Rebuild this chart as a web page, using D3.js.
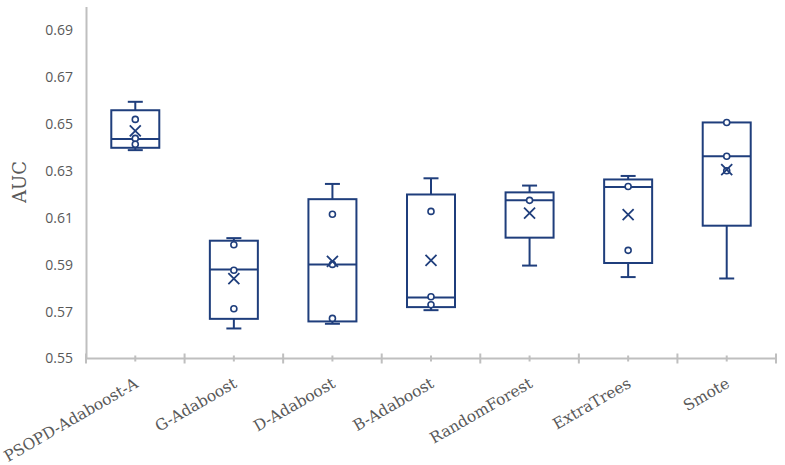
<!DOCTYPE html>
<html><head><meta charset="utf-8">
<script src="https://cdn.jsdelivr.net/npm/d3@7"></script>
<style>html,body{margin:0;padding:0;background:#fff;}</style>
</head><body>
<svg id="c" width="785" height="465"></svg>
<script>
const categories = ["PSOPD-Adaboost-A","G-Adaboost","D-Adaboost","B-Adaboost","RandomForest","ExtraTrees","Smote"];
const mins    = [0.6388, 0.5628, 0.5648, 0.5706, 0.5896, 0.5847, 0.5841];
const q1s     = [0.6398, 0.5669, 0.5658, 0.5719, 0.6015, 0.5907, 0.6066];
const medians = [0.6435, 0.5879, 0.5901, 0.5760, 0.6174, 0.6231, 0.6362];
const q3s     = [0.6558, 0.6002, 0.6179, 0.6199, 0.6208, 0.6263, 0.6506];
const maxs    = [0.6594, 0.6013, 0.6244, 0.6268, 0.6237, 0.6278, 0.6506];
const means   = [0.6470, 0.5840, 0.5914, 0.5918, 0.6120, 0.6113, 0.6305];
const innerPoints = [
  [0.6519, 0.6438, 0.6413],
  [0.5985, 0.5876, 0.5712],
  [0.6115, 0.5901, 0.5671],
  [0.6127, 0.5763, 0.5729],
  [0.6174],
  [0.6233, 0.5961],
  [0.6506, 0.6362, 0.6300]
];
const yTicks = [0.55, 0.57, 0.59, 0.61, 0.63, 0.65, 0.67, 0.69];

const color = "#1f3e7c";
const axisColor = "#bfbfbf";
const svg = d3.select("#c");
const x0 = 86, x1 = 776, yBottom = 358.5;
const y = d3.scaleLinear().domain([0.55, 0.70]).range([yBottom, yBottom - 7.5*(yBottom-30)/7]);
const x = d3.scaleBand().domain(categories).range([x0, x1]).paddingInner(0).paddingOuter(0);
const bw = x.bandwidth();
const boxW = 48, capW = 15;

// y axis
const yAxis = svg.append("g").attr("transform", `translate(${x0},0)`)
  .call(d3.axisLeft(y).tickValues(yTicks).tickFormat(d3.format(".2f")).tickSize(0).tickPadding(13));
yAxis.select(".domain").attr("stroke", axisColor).attr("stroke-width", 2);
yAxis.selectAll("text").attr("fill", "#595959").style("font-family", "Open Sans").style("font-size", "14px");

// x axis line + ticks
svg.append("line").attr("x1", x0).attr("x2", x1).attr("y1", yBottom).attr("y2", yBottom)
  .attr("stroke", axisColor).attr("stroke-width", 2);
const bounds = categories.map(c => x(c)).concat([x1]);
svg.selectAll(".btick").data(bounds).enter().append("line")
  .attr("x1", d => d).attr("x2", d => d).attr("y1", yBottom-5).attr("y2", yBottom+5)
  .attr("stroke", axisColor).attr("stroke-width", 2);
svg.selectAll(".ctick").data(categories).enter().append("line")
  .attr("x1", d => x(d)+bw/2).attr("x2", d => x(d)+bw/2).attr("y1", yBottom-3).attr("y2", yBottom+3)
  .attr("stroke", axisColor).attr("stroke-width", 2);

// x labels
svg.selectAll(".xl").data(categories).enter().append("text")
  .attr("transform", d => `translate(${x(d)+bw/2+4},${yBottom+28}) rotate(-30)`)
  .attr("text-anchor", "end")
  .attr("fill", "#595959")
  .style("font-family", "DejaVu Serif").style("font-size", "15.5px")
  .text(d => d);

// y title
svg.append("text").attr("transform", "translate(26,182) rotate(-90)")
  .attr("text-anchor", "middle").attr("fill", "#595959")
  .style("font-family", "DejaVu Serif").style("font-size", "18px").text("AUC");

// boxes
const g = svg.append("g");
categories.forEach((c, i) => {
  const cx = x(c) + bw/2;
  const gg = g.append("g").attr("fill", "none").attr("stroke", color).attr("stroke-width", 2);
  if (maxs[i] > q3s[i]) {
    gg.append("line").attr("x1", cx).attr("x2", cx).attr("y1", y(q3s[i])).attr("y2", y(maxs[i]));
    gg.append("line").attr("x1", cx-capW/2).attr("x2", cx+capW/2).attr("y1", y(maxs[i])).attr("y2", y(maxs[i]));
  }
  if (mins[i] < q1s[i]) {
    gg.append("line").attr("x1", cx).attr("x2", cx).attr("y1", y(q1s[i])).attr("y2", y(mins[i]));
    gg.append("line").attr("x1", cx-capW/2).attr("x2", cx+capW/2).attr("y1", y(mins[i])).attr("y2", y(mins[i]));
  }
  gg.append("rect").attr("x", cx-boxW/2).attr("width", boxW)
    .attr("y", y(q3s[i])).attr("height", y(q1s[i]) - y(q3s[i])).attr("fill", "#fff");
  gg.append("line").attr("x1", cx-boxW/2).attr("x2", cx+boxW/2).attr("y1", y(medians[i])).attr("y2", y(medians[i]));
  innerPoints[i].forEach(v => {
    gg.append("circle").attr("cx", cx).attr("cy", y(v)).attr("r", 3).attr("stroke-width", 1.6).attr("fill", "#fff");
  });
  const m = y(means[i]), s = 5.5;
  gg.append("path").attr("d", `M${cx-s},${m-s}L${cx+s},${m+s}M${cx-s},${m+s}L${cx+s},${m-s}`).attr("stroke-width", 1.8);
});
</script>
</body></html>
